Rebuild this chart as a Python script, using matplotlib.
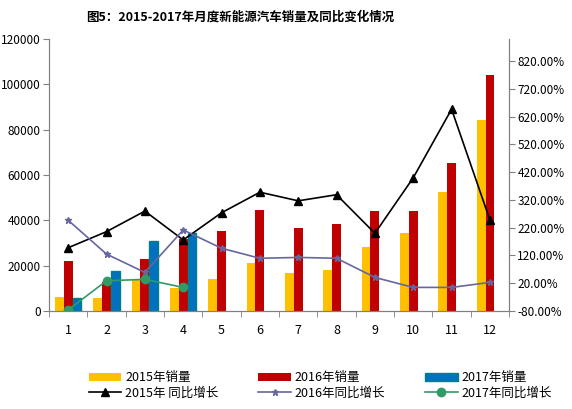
import matplotlib
matplotlib.use("Agg")
import matplotlib.pyplot as plt
from matplotlib.ticker import FuncFormatter, FixedLocator
import numpy as np

plt.rcParams['font.family'] = ['Noto Sans CJK SC', 'DejaVu Sans']

months = ['1', '2', '3', '4', '5', '6', '7', '8', '9', '10', '11', '12']
sales_2015 = [6300, 5900, 14100, 10300, 14100, 21200, 16800, 18100, 28200, 34500, 52500, 84200]
sales_2016 = [22200, 13000, 22900, 31800, 35400, 44600, 36600, 38400, 44100, 44100, 65300, 104200]
sales_2017 = [5900, 17800, 30900, 34500]
yoy_2015 = [148, 206, 280, 176, 274, 348, 317, 339, 200, 400, 647, 248]
yoy_2016 = [247, 125, 59, 212, 146, 110, 113, 110, 41, 5, 5, 23]
yoy_2017 = [-76, 29, 34, 5]

x = np.arange(len(months))
x17 = np.arange(len(sales_2017))
w = 0.23

fig = plt.figure(figsize=(5.72, 4.09), dpi=100)
ax = fig.add_axes([0.0857, 0.2396, 0.8043, 0.665])
ax2 = ax.twinx()

b15 = ax.bar(x - w, sales_2015, w, color='#FFC000', label='2015年销量')
b16 = ax.bar(x, sales_2016, w, color='#C00000', label='2016年销量')
b17 = ax.bar(x17 + w, sales_2017, w, color='#0070C0', edgecolor='#008080',
             linewidth=1, label='2017年销量')

l15, = ax2.plot(x, yoy_2015, color='black', marker='^', ms=6, lw=1.2, label='2015年 同比增长')
l16, = ax2.plot(x, yoy_2016, color='#6666A0', marker='*', ms=5, lw=1.2, label='2016年同比增长')
l17, = ax2.plot(x17, yoy_2017, color='#339966', marker='o', ms=6, lw=1.2, label='2017年同比增长')

ax.set_xlim(-0.5, 11.5)
ax.set_ylim(0, 120000)
ax.set_yticks(range(0, 120001, 20000))
ax2.set_ylim(-80, 900)
ax2.yaxis.set_major_locator(FixedLocator(range(-80, 821, 100)))
ax2.yaxis.set_major_formatter(FuncFormatter(lambda v, p: '%.2f%%' % v))

ax.set_xticks(x)
ax.set_xticklabels(months)
ax.set_xticks(np.arange(-0.5, 12, 1), minor=True)
ax.tick_params(axis='x', which='major', length=0, pad=9)
ax.tick_params(axis='x', which='minor', length=4, color='#808080')

for a in (ax, ax2):
    a.spines['top'].set_visible(False)
    for s in ('left', 'right', 'bottom'):
        a.spines[s].set_color('#808080')
    a.tick_params(axis='y', color='#808080', length=4, labelsize=8.5, pad=2)
ax.tick_params(axis='x', labelsize=9)

fig.text(0.42, 0.958, '图5：2015-2017年月度新能源汽车销量及同比变化情况',
         ha='center', va='center', fontsize=9, fontweight='bold')

handles = [b15, l15, b16, l16, b17, l17]
fig.legend(handles=handles, labels=[h.get_label() for h in handles], ncol=3,
           loc='lower center', bbox_to_anchor=(0.56, -0.005), frameon=False,
           fontsize=9, columnspacing=3.2, handlelength=2.6, handletextpad=0.3,
           labelspacing=0.2)

fig.savefig('out.png', dpi=100)
